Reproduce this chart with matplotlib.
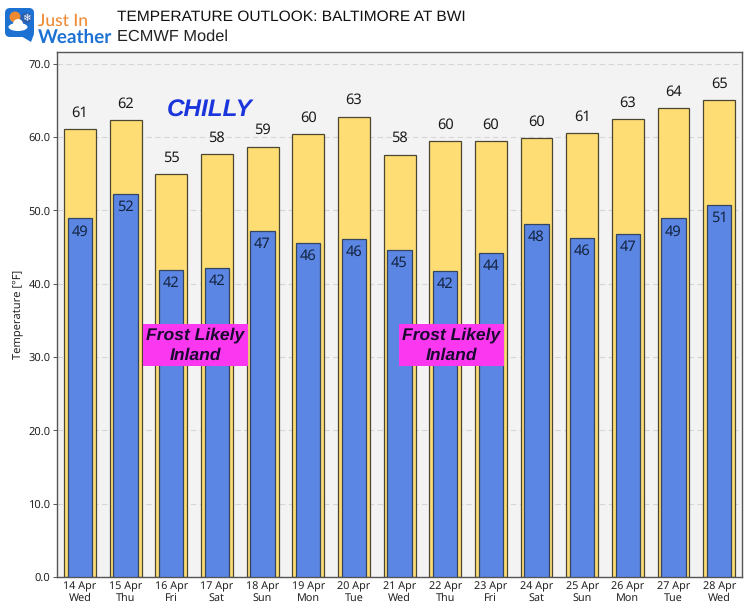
import matplotlib
matplotlib.use('Agg')
import matplotlib.pyplot as plt
from matplotlib.patches import Circle, Ellipse, FancyBboxPatch, Polygon

# Values
dates = ['14 Apr', '15 Apr', '16 Apr', '17 Apr', '18 Apr', '19 Apr', '20 Apr', '21 Apr',
         '22 Apr', '23 Apr', '24 Apr', '25 Apr', '26 Apr', '27 Apr', '28 Apr']
days = ['Wed', 'Thu', 'Fri', 'Sat', 'Sun', 'Mon', 'Tue', 'Wed',
        'Thu', 'Fri', 'Sat', 'Sun', 'Mon', 'Tue', 'Wed']
highs = [61.1, 62.3, 55.0, 57.7, 58.7, 60.4, 62.8, 57.6, 59.5, 59.5, 59.9, 60.5, 62.5, 63.9, 65.1]
lows = [48.9, 52.3, 41.9, 42.2, 47.2, 45.5, 46.1, 44.6, 41.7, 44.2, 48.2, 46.2, 46.8, 48.9, 50.8]
high_labels = [61, 62, 55, 58, 59, 60, 63, 58, 60, 60, 60, 61, 63, 64, 65]
low_labels = [49, 52, 42, 42, 47, 46, 46, 45, 42, 44, 48, 46, 47, 49, 51]
y_ticks = [0, 10, 20, 30, 40, 50, 60, 70]

W, H = 750, 610
plt.rcParams['font.family'] = ['Noto Sans', 'DejaVu Sans']
plt.rcParams['text.hinting'] = 'no_hinting'
fig = plt.figure(figsize=(W / 100, H / 100), dpi=100, facecolor='white')
ax = fig.add_axes([57.5 / W, 1 - 577 / H, (742 - 57.5) / W, (577 - 52) / H])
ax.set_facecolor('#f3f3f4')

x = list(range(len(dates)))
ax.yaxis.grid(True, color='#d6d6d6', linestyle=(0, (5, 3)), linewidth=0.8)
ax.set_axisbelow(True)
ax.bar(x, highs, width=0.70, color='#ffdd75', edgecolor='#4a4630', linewidth=0.9, zorder=2)
ax.bar(x, lows, width=0.53, color='#5b86e3', edgecolor='#34465f', linewidth=0.9, zorder=3)

for i in x:
    ax.text(i, highs[i] + 1.2, str(high_labels[i]), ha='center', va='bottom',
            fontsize=10.5, color='#1a1a1a', zorder=5)
    ax.text(i, lows[i] - 0.8, str(low_labels[i]), ha='center', va='top',
            fontsize=10.5, color='#14233f', zorder=5)

ax.set_xlim(-0.49, 14.5)
ax.set_ylim(0, 71.6)
ax.set_xticks(x)
ax.set_xticklabels([d + '\n' + w for d, w in zip(dates, days)], fontsize=7.8, color='#222222',
                   linespacing=1.1)
ax.set_yticks(y_ticks)
ax.set_yticklabels(['%.1f' % t for t in y_ticks], fontsize=8, color='#222222')
ax.tick_params(axis='x', length=0, pad=3)
ax.tick_params(axis='y', length=3, width=0.7, pad=2, color='#555555')
ax.set_ylabel('Temperature [°F]', fontsize=8, color='#222222', labelpad=4)
for s in ax.spines.values():
    s.set_color('#555555')
    s.set_linewidth(1.0)

# Annotations
ax.text(2.85, 63.6, 'CHILLY', fontsize=17.5, fontweight='bold', style='italic', color='#1a35dc',
        family='Liberation Sans', ha='center', va='center', zorder=6)
for cx in [2.53, 8.14]:
    ax.text(cx, 31.6, 'Frost Likely\nInland', fontsize=12.6, fontweight='bold', style='italic',
            color='#1a0a30', family='Liberation Sans', ha='center', va='center', linespacing=1.3,
            zorder=6, bbox=dict(boxstyle='square,pad=0.2', facecolor='#fb37f0', edgecolor='none'))

# Title
fig.text(117 / W, 1 - 17 / H, 'TEMPERATURE OUTLOOK: BALTIMORE AT BWI', fontsize=11.15,
         family='Liberation Sans', color='#111111', va='center')
fig.text(117 / W, 1 - 37 / H, 'ECMWF Model', fontsize=11.8,
         family='Liberation Sans', color='#222222', va='center')

# Logo
lg = fig.add_axes([0, 0, 1, 1], facecolor='none')
lg.set_xlim(0, W)
lg.set_ylim(H, 0)
lg.axis('off')
lg.add_patch(FancyBboxPatch((5, 8), 29, 29, boxstyle='round,pad=0,rounding_size=5',
                            facecolor='#1c71d2', edgecolor='none'))
lg.add_patch(Polygon([[21, 36], [34, 34], [31, 42]], closed=True, facecolor='#1c71d2', edgecolor='none'))
lg.add_patch(Circle((15, 17), 5.5, facecolor='#f08a32', edgecolor='none'))
lg.add_patch(Circle((26, 18), 5.5, facecolor='#2b5fb0', edgecolor='none'))
lg.text(26, 18, '❄', fontsize=7.5, color='white', ha='center', va='center', family='DejaVu Sans')
lg.add_patch(Ellipse((18, 27), 19, 8, facecolor='white', edgecolor='none'))
lg.add_patch(Circle((18, 24), 5, facecolor='white', edgecolor='none'))
lg.text(38, 21.5, 'Just In', fontsize=12.5, fontweight='medium', color='#ef8a35', family='Lato', va='center')
lg.text(38, 37, 'Weather', fontsize=13.6, fontweight='bold', color='#1c71d2', family='Lato', va='center')

fig.savefig('out.png', dpi=100, facecolor='white')
